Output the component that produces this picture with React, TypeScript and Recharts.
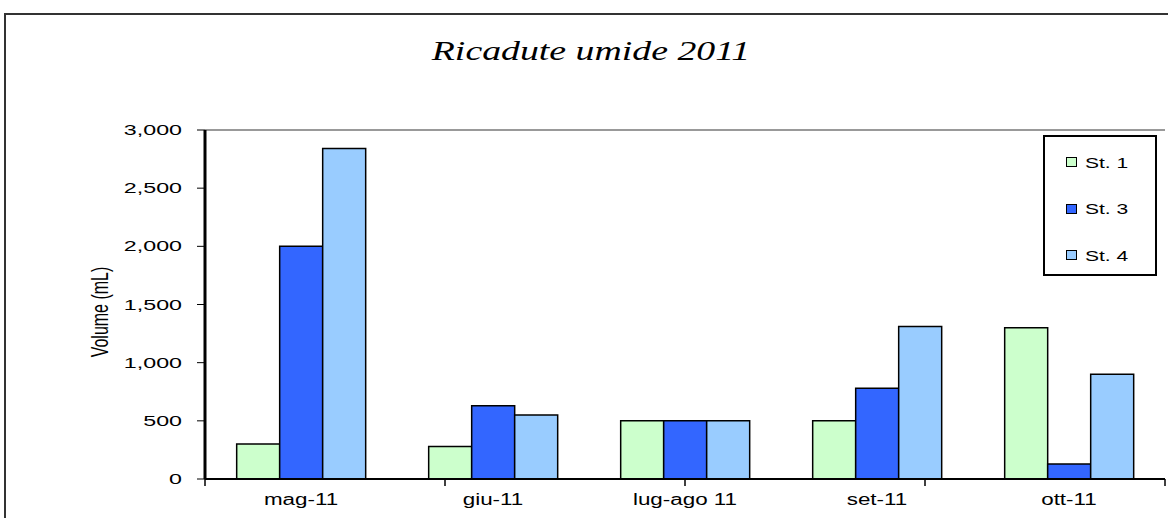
import { BarChart, Bar, XAxis, YAxis, Legend, ReferenceLine } from 'recharts';

const months = ['mag-11', 'giu-11', 'lug-ago 11', 'set-11', 'ott-11'];
const st1 = [300, 280, 500, 500, 1300];
const st3 = [2000, 630, 500, 780, 130];
const st4 = [2840, 550, 500, 1310, 900];
const yTicks = [0, 500, 1000, 1500, 2000, 2500, 3000];
const bounds = [0, 1, 2, 3, 4, 5];

const data = months.map((m, i) => ({ month: m, st1: st1[i], st3: st3[i], st4: st4[i] }));

const sans = '"Liberation Sans", Arial, sans-serif';

const YTick = ({ x, y, payload }: any) => (
  <g transform={`translate(${x},${y})`}>
    <text transform="scale(1.55,1)" textAnchor="end" dy={5} fontSize={15} fontFamily={sans} fill="#000">
      {Number(payload.value).toLocaleString('en-US')}
    </text>
  </g>
);

const XTick = ({ x, y, payload }: any) => (
  <g transform={`translate(${x},${y})`}>
    <text transform="scale(1.4,1)" textAnchor="middle" dy={18} fontSize={16} fontFamily={sans} fill="#000">
      {payload.value}
    </text>
  </g>
);

const LegendBox = ({ payload }: any) => (
  <div style={{ width: 114, height: 141, border: '2px solid #000', boxSizing: 'border-box', position: 'relative', background: '#fff' }}>
    {(payload || []).map((p: any, i: number) => (
      <div key={p.value} style={{ position: 'absolute', left: 21, top: 15 + i * 46.5, display: 'flex', alignItems: 'center', height: 20 }}>
        <div style={{ width: 9, height: 8, background: p.color, border: '1px solid #000', marginRight: 8 }} />
        <span style={{ fontFamily: sans, fontSize: 15, color: '#000', display: 'inline-block', transform: 'scaleX(1.4)', transformOrigin: 'left center', whiteSpace: 'nowrap' }}>
          {p.value}
        </span>
      </div>
    ))}
  </div>
);

export default function App() {
  return (
    <div style={{ position: 'absolute', left: 0, top: 0, width: 1168, height: 518, overflow: 'hidden', background: '#fff' }}>
      <div style={{ position: 'absolute', left: 4, top: 13, width: 1300, height: 700, border: '2px solid #333' }} />
      <div style={{ position: 'absolute', left: 591, top: 37, lineHeight: '28px', fontSize: 28, fontStyle: 'italic', fontFamily: '"Liberation Serif", "Times New Roman", serif', whiteSpace: 'nowrap', transform: 'translateX(-50%) scaleX(1.35)' }}>
        Ricadute umide 2011
      </div>
      <div style={{ position: 'absolute', left: 100, top: 312, fontSize: 16, lineHeight: '16px', fontFamily: sans, whiteSpace: 'nowrap', transform: 'translate(-50%,-50%) rotate(-90deg) scale(1,1.5)' }}>
        Volume (mL)
      </div>
      <div style={{ position: 'absolute', left: 0, top: 0 }}>
        <BarChart width={1168} height={518} data={data} margin={{ top: 130, right: 3, bottom: 0, left: 85 }} barCategoryGap="16.5%" barGap={0}>
          <XAxis dataKey="month" xAxisId="c" height={39} tickLine={false} axisLine={{ stroke: '#000', strokeWidth: 2 }} tick={<XTick />} interval={0} />
          <XAxis xAxisId="n" type="number" domain={[0, 5]} hide />
          <YAxis width={120} domain={[0, 3000]} ticks={yTicks} tickSize={8} tickMargin={15} tickLine={{ stroke: '#000' }} axisLine={{ stroke: '#000', strokeWidth: 3 }} tick={<YTick />} interval={0} />
          <ReferenceLine xAxisId="n" y={3000} stroke="#999" strokeWidth={2} />
          <ReferenceLine xAxisId="n" x={5} stroke="#999" strokeWidth={2} />
          {bounds.map((b) => (
            <ReferenceLine key={b} xAxisId="n" segment={[{ x: b, y: 0 }, { x: b, y: -60 }]} ifOverflow="visible" stroke="#000" strokeWidth={1.5} />
          ))}
          <Legend layout="horizontal" align="center" verticalAlign="middle" wrapperStyle={{ left: 1043, top: 135, width: 114, height: 141 }} content={<LegendBox />} />
          <Bar xAxisId="c" dataKey="st1" name="St. 1" fill="#CCFFCC" stroke="#000" strokeWidth={1.5} isAnimationActive={false} />
          <Bar xAxisId="c" dataKey="st3" name="St. 3" fill="#3366FF" stroke="#000" strokeWidth={1.5} isAnimationActive={false} />
          <Bar xAxisId="c" dataKey="st4" name="St. 4" fill="#99CCFF" stroke="#000" strokeWidth={1.5} isAnimationActive={false} />
        </BarChart>
      </div>
    </div>
  );
}
